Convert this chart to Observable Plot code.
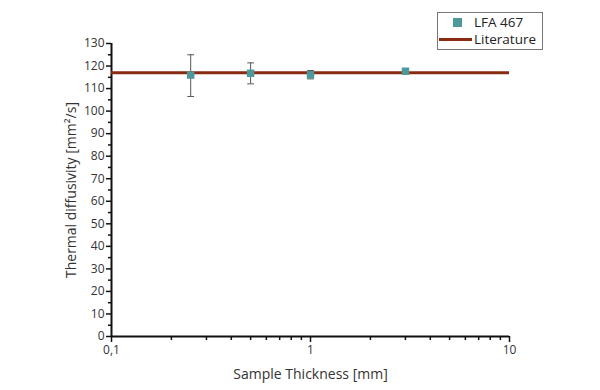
<!DOCTYPE html>
<html>
<head>
<meta charset="utf-8">
<script src="https://cdn.jsdelivr.net/npm/d3@7"></script>
<script src="https://cdn.jsdelivr.net/npm/@observablehq/plot@0.6"></script>
<style>
  body { margin: 0; background: #fff; }
  #wrap { position: relative; width: 600px; height: 390px; font-family: "Open Sans", sans-serif; }
  #legend { position: absolute; left: 437px; top: 12px; width: 106px; height: 38px; border: 1px solid #777; background: #fff; font-size: 13.5px; color: #222; box-sizing: border-box; }
  #legend .row { position: absolute; left: 0; height: 17px; line-height: 17px; white-space: nowrap; }
</style>
</head>
<body>
<div id="wrap"></div>
<script>
const thickness = [0.25, 0.5, 1, 3];
const diffusivity = [116, 116.8, 116.1, 117.7];
const errLow = [106.5, 112.1, 114.3, 116.7];
const errHigh = [125, 121.4, 118.0, 118.7];
const literature = 117;
const xTicks = [0.1, 1, 10];
const xTickLabels = ["0,1", "1", "10"];
const xMinor = [0.2,0.3,0.4,0.5,0.6,0.7,0.8,0.9,2,3,4,5,6,7,8,9];
const yTicks = d3.range(0, 131, 10);
const yMinor = d3.range(5, 130, 10);

const data = thickness.map((t, i) => ({x: t, y: diffusivity[i], lo: errLow[i], hi: errHigh[i]}));
const cap = 1.04;
const teal = "#4d9899";
const red = "#8a2a10";

const chart = Plot.plot({
  width: 600, height: 390,
  marginLeft: 111, marginRight: 91, marginTop: 43, marginBottom: 54,
  style: {fontFamily: "Open Sans, sans-serif", fontSize: "12px", color: "#333", background: "#fff"},
  x: {type: "log", domain: [0.1, 10]},
  y: {domain: [0, 130]},
  marks: [
    Plot.axisY({ticks: yMinor, tickSize: 3, text: null, label: null, strokeWidth: 1.5, stroke: "#111"}),
    Plot.axisY({ticks: yTicks, tickSize: 5, tickPadding: 2, strokeWidth: 1.5, stroke: "#111", fill: "#333", fontSize: 12,
      label: "Thermal diffusivity [mm²/s]", labelAnchor: "center", labelArrow: "none", labelOffset: 45}),
    Plot.axisX({ticks: xMinor, tickSize: 4, text: null, label: null, strokeWidth: 1.5, stroke: "#111"}),
    Plot.axisX({ticks: xTicks, tickSize: 6, tickPadding: 3, tickFormat: (d) => xTickLabels[xTicks.indexOf(d)],
      strokeWidth: 1.5, stroke: "#111", fill: "#333", fontSize: 12,
      label: "Sample Thickness [mm]", labelAnchor: "center", labelArrow: "none", labelOffset: 42}),
    Plot.ruleY([0], {stroke: "#111", strokeWidth: 2}),
    Plot.ruleX([0.1], {y1: 0, y2: 130, stroke: "#111", strokeWidth: 2}),
    Plot.ruleY([literature], {stroke: red, strokeWidth: 3}),
    Plot.ruleX(data, {x: "x", y1: "lo", y2: "hi", stroke: "#555", strokeWidth: 1}),
    Plot.link(data, {x1: d => d.x / cap, x2: d => d.x * cap, y1: "lo", y2: "lo", stroke: "#555", strokeWidth: 1}),
    Plot.link(data, {x1: d => d.x / cap, x2: d => d.x * cap, y1: "hi", y2: "hi", stroke: "#555", strokeWidth: 1}),
    Plot.dot(data, {x: "x", y: "y", symbol: "square", r: 4.2, fill: teal, stroke: null})
  ]
});
chart.querySelectorAll('[aria-label="y-axis label"] text, [aria-label="x-axis label"] text').forEach(t => { t.setAttribute("font-size", "14"); t.setAttribute("fill", "#333"); });
const wrap = document.getElementById("wrap");
wrap.appendChild(chart);

const legend = document.createElement("div");
legend.id = "legend";
legend.innerHTML = `
  <div class="row" style="top:1px;left:15px;"><span style="display:inline-block;width:9px;height:9px;background:${teal};vertical-align:middle;margin-right:12px;position:relative;top:-1px;"></span>LFA 467</div>
  <div class="row" style="top:18px;left:1px;"><span style="display:inline-block;width:33px;height:3px;background:${red};vertical-align:middle;margin-right:2px;position:relative;top:-1px;"></span>Literature</div>`;
wrap.appendChild(legend);
</script>
</body>
</html>
